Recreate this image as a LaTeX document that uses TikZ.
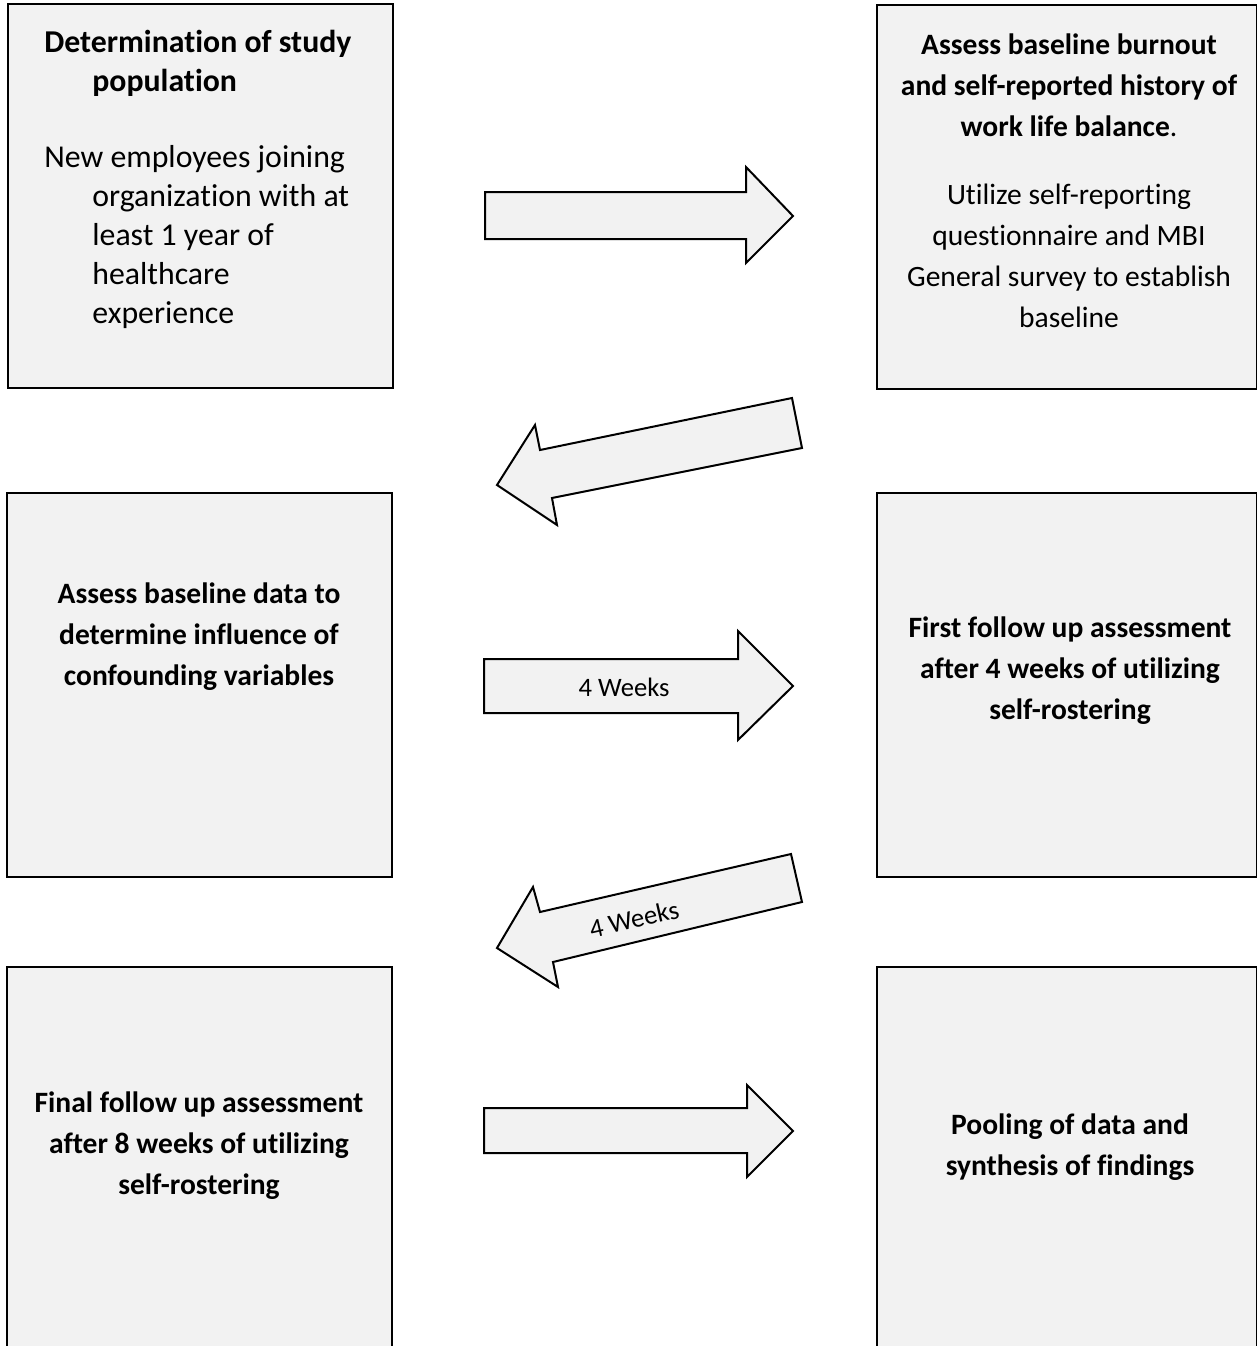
\documentclass[tikz,border=0pt]{standalone}
\usepackage{fontspec}
\setmainfont{Carlito}[Ligatures=NoCommon]
\definecolor{boxfill}{HTML}{F2F2F2}
\begin{document}
\begin{tikzpicture}[x=0.5pt,y=-0.5pt,
  box/.style={draw=black, line width=1pt, fill=boxfill, inner sep=0pt, minimum height=192pt},
  lbox/.style={box, minimum width=192.5pt},
  rbox/.style={box, minimum width=190pt},
  blockarrow/.style={draw=black, line width=1pt, fill=boxfill, line join=miter},
  txt/.style={anchor=base, inner sep=0pt, font=\fontsize{14.77}{20.6}\selectfont},
  ltxt/.style={anchor=base west, inner sep=0pt, font=\fontsize{15.9}{19.5}\selectfont},
  albl/.style={inner sep=0pt, font=\fontsize{13.3}{16}\selectfont}
]
\useasboundingbox (0,0) rectangle (1257,1346);
\clip (0,0) rectangle (1257,1346);

% boxes
\node[lbox] (b1) at (200.5,196) {};
\node[rbox] (b2) at (1067,197) {};
\node[lbox] (b3) at (199.5,685) {};
\node[rbox] (b4) at (1067,685) {};
\node[lbox] (b5) at (199.5,1159) {};
\node[rbox] (b6) at (1067,1159) {};

% box 1 text
\node[ltxt] (t1a) at (44,52) {\parbox[t]{170pt}{\raggedright\hangindent=24pt\hangafter=1\bfseries Determination of study\newline population}};
\node[ltxt] (t1b) at (44,167) {\parbox[t]{170pt}{\raggedright\hangindent=24pt\hangafter=1 New employees joining\newline organization with at\newline least 1 year of\newline healthcare\newline experience}};

% box 2 text
\node[txt] (t2a) at (1069,54) {\parbox[t]{190pt}{\centering\bfseries Assess baseline burnout\\and self-reported history of\\work life balance\mdseries.}};
\node[txt] (t2b) at (1069,204) {\parbox[t]{190pt}{\centering Utilize self-reporting\\questionnaire and MBI\\General survey to establish\\baseline}};

% box 3-6 text
\node[txt] (t3) at (199,603) {\parbox[t]{190pt}{\centering\bfseries Assess baseline data to\\determine influence of\\confounding variables}};
\node[txt] (t4) at (1070,637) {\parbox[t]{190pt}{\centering\bfseries First follow up assessment\\after 4 weeks of utilizing\\self-rostering}};
\node[txt] (t5) at (199,1112) {\parbox[t]{190pt}{\centering\bfseries Final follow up assessment\\after 8 weeks of utilizing\\self-rostering}};
\node[txt] (t6) at (1070,1134) {\parbox[t]{190pt}{\centering\bfseries Pooling of data and\\synthesis of findings}};

% block arrows
\draw[blockarrow] (485,192) -- (746,192) -- (746,167) -- (793,216) -- (746,263) -- (746,239) -- (485,239) -- cycle;
\draw[blockarrow] (792,398) -- (540,450) -- (535,425) -- (497,485) -- (557,525) -- (552,498) -- (802,448) -- cycle;
\draw[blockarrow] (484,659) -- (738,659) -- (738,631) -- (793,686) -- (738,740) -- (738,713) -- (484,713) -- cycle;
\draw[blockarrow] (791,854) -- (540,912) -- (533,887) -- (497,948) -- (558,987) -- (553,962) -- (802,902) -- cycle;
\draw[blockarrow] (484,1108) -- (747,1108) -- (747,1085) -- (793,1131) -- (747,1177) -- (747,1153) -- (484,1153) -- cycle;

% arrow labels
\node[albl] (l3) at (624,687) {4 Weeks};
\node[albl, rotate=13] (l4) at (634,919) {4 Weeks};
\end{tikzpicture}
\end{document}
